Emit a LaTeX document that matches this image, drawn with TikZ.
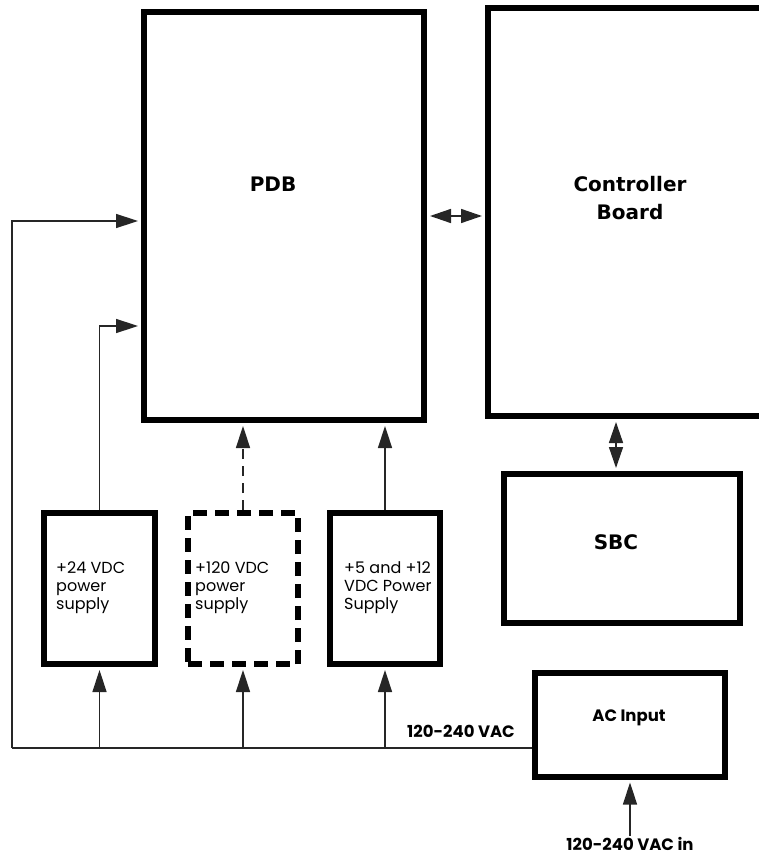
\documentclass[tikz,border=0pt]{standalone}
\usepackage{fontspec}
\setmainfont{DejaVu Sans}
\newfontfamily\geo{Poppins}
\usetikzlibrary{arrows.meta}
\begin{document}
\begin{tikzpicture}[x=1pt,y=-1pt,
  box/.style={draw, line width=6pt, rectangle, inner sep=0pt},
  dbox/.style={box, dash pattern=on 14pt off 8pt},
  conn/.style={line width=1.5pt, draw=black!85},
  dconn/.style={conn, dash pattern=on 10pt off 7pt},
  tip/.style={-{Triangle[length=22pt,width=14pt]}, shorten >=3pt},
  bitip/.style={{Triangle[length=21pt,width=14pt]}-{Triangle[length=21pt,width=14pt]}, shorten >=3pt, shorten <=3pt},
  big/.style={font=\bfseries\fontsize{20}{28}\selectfont, align=center, inner sep=0pt},
  pstext/.style={font=\geo\fontsize{16}{18}\selectfont, align=left, anchor=west, inner sep=0pt},
  vac/.style={font=\geo\bfseries\fontsize{16.5}{18}\selectfont, inner sep=1pt}]
\useasboundingbox (0,0) rectangle (758,856);

% boxes
\node[box, minimum width=280pt, minimum height=408pt] (pdb) at (284,216) {};
\node[box, minimum width=284pt, minimum height=408pt] (ctrl) at (630,212) {};
\node[box, minimum width=236pt, minimum height=149pt] (sbc) at (622,548.5) {};
\node[box, minimum width=111pt, minimum height=151pt] (ps24) at (99.5,588.5) {};
\node[dbox, minimum width=110pt, minimum height=151pt] (ps120) at (243,588.5) {};
\node[box, minimum width=110pt, minimum height=151pt] (ps5) at (385,588.5) {};
\node[box, minimum width=190pt, minimum height=104pt] (ac) at (630,724.5) {};

% labels
\node[big] (pdbl) at (273,184) {PDB};
\node[big] (ctrll) at (630,198) {Controller\\Board};
\node[big] (sbcl) at (616,542) {SBC};
\node[pstext] (t24) at (56,588) {+24 VDC\\power\\supply};
\node[pstext] (t120) at (195,588) {+120 VDC\\power\\supply};
\node[pstext] (t5) at (344,588) {+5 and +12\\VDC Power\\Supply};
\node[vac] (vac) at (461,731) {120-240 VAC};
\node[vac] (acl) at (629,718) {AC Input};
\node[vac] (vacin) at (630,844) {120-240 VAC in};

% helper coordinates
\coordinate (busL) at (12,748);
\coordinate (yA) at (0,221);
\coordinate (yB) at (0,326);
\coordinate (xC) at (616,0);

% connectors
\draw[conn] (busL) -- (ac.west |- busL);
\draw[conn, tip] (busL) |- (pdb.west |- yA);
\draw[conn, tip] (ps24.north) |- (pdb.west |- yB);
\draw[conn, tip] (ps24.south |- busL) -- (ps24.south);
\draw[conn, tip] (ps120.south |- busL) -- (ps120.south);
\draw[conn, tip] (ps5.south |- busL) -- (ps5.south);
\draw[dconn, tip] (ps120.north) -- (pdb.south -| ps120.north);
\draw[conn, tip] (ps5.north) -- (pdb.south -| ps5.north);
\draw[conn, bitip] (pdb.east) -- (ctrl.west |- pdb.east);
\draw[conn, bitip] (ctrl.south -| xC) -- (sbc.north -| xC);
\draw[conn, tip] (vacin.north -| ac.south) -- (ac.south);
\end{tikzpicture}
\end{document}
